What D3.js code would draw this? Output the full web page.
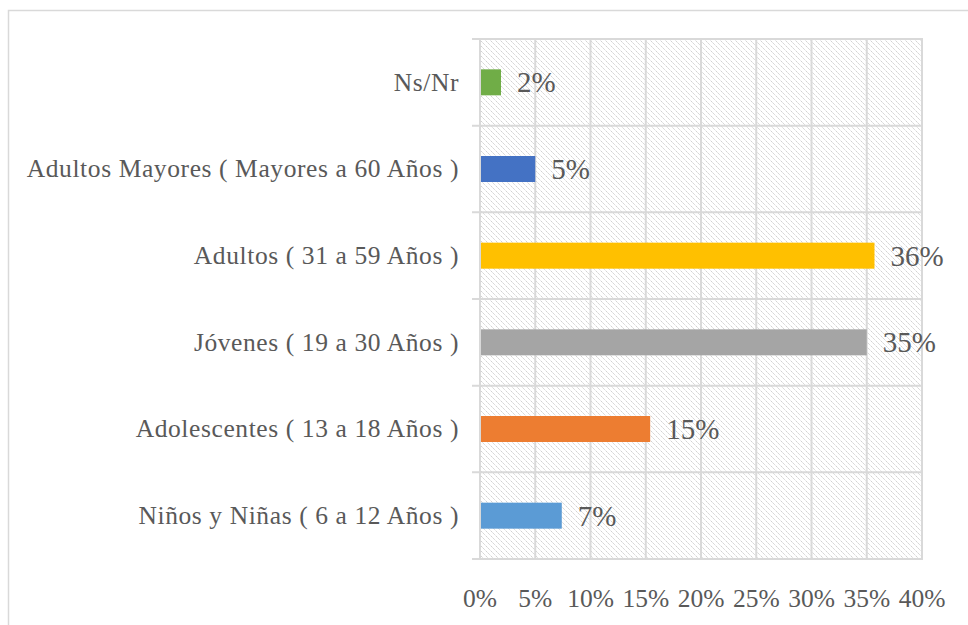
<!DOCTYPE html>
<html>
<head>
<meta charset="utf-8">
<script src="https://cdn.jsdelivr.net/npm/d3@7"></script>
<style>
  body { margin: 0; background: #fff; }
</style>
</head>
<body>
<div id="chart"></div>
<script>
// categories listed bottom to top, as they appear in the chart
const categories = [
  "Niños y Niñas ( 6 a 12 Años )",
  "Adolescentes ( 13 a 18 Años )",
  "Jóvenes ( 19 a 30 Años )",
  "Adultos ( 31 a 59 Años )",
  "Adultos Mayores ( Mayores a 60 Años )",
  "Ns/Nr"
];
const values = [0.074, 0.154, 0.350, 0.357, 0.050, 0.019];
const colors = ["#5B9BD5", "#ED7D31", "#A5A5A5", "#FFC000", "#4472C4", "#70AD47"];
const xTicks = [0, 0.05, 0.10, 0.15, 0.20, 0.25, 0.30, 0.35, 0.40];

const width = 968, height = 625;
const plot = {left: 480, right: 922, top: 39, bottom: 559};
const serif = "'Liberation Serif', Tinos, 'Times New Roman', 'DejaVu Serif', 'Noto Serif', serif";

const svg = d3.select("#chart").append("svg")
  .attr("width", width)
  .attr("height", height)
  .attr("font-family", serif);

// hatch fill for the plot area
const defs = svg.append("defs");
const pat = defs.append("pattern")
  .attr("id", "hatch")
  .attr("patternUnits", "userSpaceOnUse")
  .attr("width", 5)
  .attr("height", 5);
pat.append("path")
  .attr("d", "M-1,-1 L6,6 M-1,4 L1,6 M4,-1 L6,1")
  .attr("stroke", "#cccccc")
  .attr("stroke-width", 1)
  .attr("stroke-dasharray", "2,1");

// chart border (runs off the right and bottom edge)
svg.append("rect")
  .attr("x", 8.5).attr("y", 10.5)
  .attr("width", 1000).attr("height", 700)
  .attr("fill", "none")
  .attr("stroke", "#d9d9d9")
  .attr("stroke-width", 1.5);

const x = d3.scaleLinear().domain([0, 0.40]).range([plot.left, plot.right]);
const y = d3.scaleBand().domain(categories.slice().reverse())
  .range([plot.top, plot.bottom])
  .paddingInner(0.7).paddingOuter(0.35);
const yRow = d3.scaleBand().domain(categories.slice().reverse())
  .range([plot.top, plot.bottom]);

svg.append("rect")
  .attr("x", plot.left).attr("y", plot.top)
  .attr("width", plot.right - plot.left)
  .attr("height", plot.bottom - plot.top)
  .attr("fill", "url(#hatch)");

// vertical gridlines
svg.append("g").selectAll("line")
  .data(xTicks)
  .enter().append("line")
  .attr("x1", d => x(d)).attr("x2", d => x(d))
  .attr("y1", plot.top).attr("y2", plot.bottom)
  .attr("stroke", "#d9d9d9")
  .attr("stroke-width", 2);

// horizontal gridlines between categories (with small tick stubs to the left)
const hLines = yRow.domain().map(c => yRow(c)).concat([plot.bottom]);
svg.append("g").selectAll("line")
  .data(hLines)
  .enter().append("line")
  .attr("x1", plot.left - 8).attr("x2", plot.right + 1)
  .attr("y1", d => d).attr("y2", d => d)
  .attr("stroke", "#d9d9d9")
  .attr("stroke-width", 2);

// bars
svg.append("g").selectAll("rect")
  .data(categories)
  .enter().append("rect")
  .attr("x", x(0) + 1)
  .attr("y", d => y(d))
  .attr("width", (d, i) => x(values[i]) - x(0) - 1)
  .attr("height", y.bandwidth())
  .attr("fill", (d, i) => colors[i]);

// value labels
const fmt = d3.format(".0%");
svg.append("g").selectAll("text")
  .data(categories)
  .enter().append("text")
  .attr("x", (d, i) => x(values[i]) + 16)
  .attr("y", d => y(d) + y.bandwidth() / 2)
  .attr("dy", "0.35em")
  .attr("font-size", 29)
  .attr("fill", "#595959")
  .text((d, i) => fmt(values[i]));

// category labels
svg.append("g").selectAll("text")
  .data(categories)
  .enter().append("text")
  .attr("x", 459)
  .attr("y", d => yRow(d) + yRow.bandwidth() / 2)
  .attr("dy", "0.33em")
  .attr("text-anchor", "end")
  .attr("font-size", 25.5)
  .attr("letter-spacing", 0.6)
  .attr("fill", "#595959")
  .text(d => d);

// x tick labels
svg.append("g").selectAll("text")
  .data(xTicks)
  .enter().append("text")
  .attr("x", d => x(d))
  .attr("y", 599)
  .attr("dy", "0.33em")
  .attr("text-anchor", "middle")
  .attr("font-size", 25.5)
  .attr("fill", "#595959")
  .text(d => fmt(d));
</script>
</body>
</html>
